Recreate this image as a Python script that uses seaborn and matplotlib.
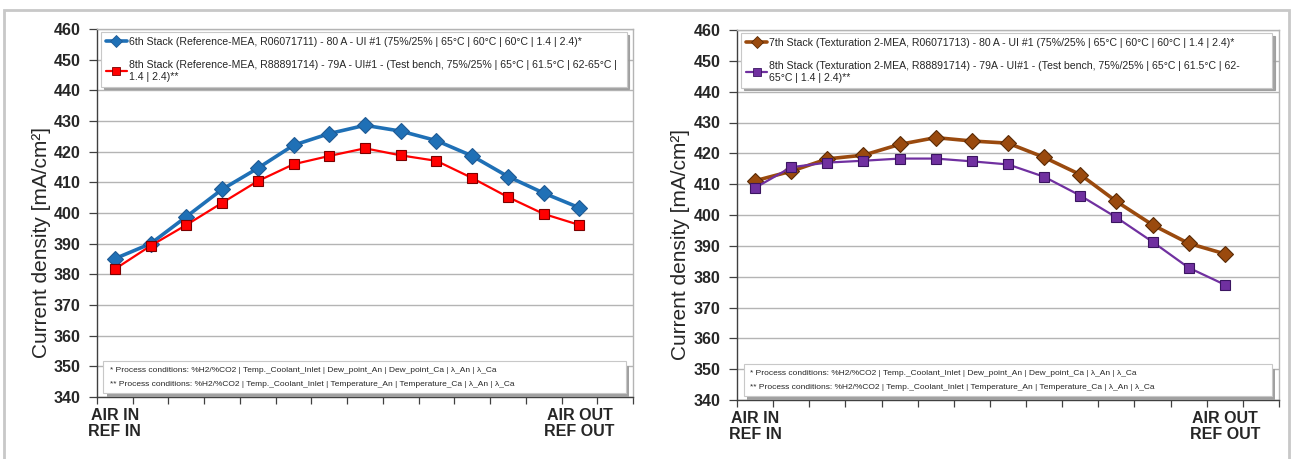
import numpy as np
import pandas as pd
import matplotlib
matplotlib.use("Agg")
import matplotlib.pyplot as plt
import seaborn as sns
from matplotlib.lines import Line2D
from matplotlib.patches import Rectangle

# ---------------- data ----------------
positions = list(range(15))          # 15 category slots along the stack
cell_idx = list(range(14))           # 14 measured positions
x_labels = {0: "AIR IN\nREF IN", 13: "AIR OUT\nREF OUT"}

left_s1 = [385.1, 390.0, 398.8, 407.7, 414.6, 422.1, 425.9, 428.6, 426.7, 423.6, 418.6, 411.9, 406.5, 401.7]
left_s2 = [381.7, 389.3, 396.1, 403.3, 410.4, 415.9, 418.6, 421.1, 418.8, 417.0, 411.4, 405.2, 399.7, 396.1]
right_s1 = [411.1, 414.2, 418.2, 419.4, 422.9, 425.1, 424.0, 423.3, 418.7, 413.1, 404.4, 396.8, 390.8, 387.4]
right_s2 = [408.8, 415.5, 417.0, 417.6, 418.3, 418.3, 417.4, 416.4, 412.4, 406.3, 399.2, 391.3, 382.9, 377.4]

left_labels = [
    "6th Stack (Reference-MEA, R06071711) - 80 A - UI #1 (75%/25% | 65°C | 60°C | 60°C | 1.4 | 2.4)*",
    "8th Stack (Reference-MEA, R88891714) - 79A - UI#1 - (Test bench, 75%/25% | 65°C | 61.5°C | 62-65°C |\n1.4 | 2.4)**",
]
right_labels = [
    "7th Stack (Texturation 2-MEA, R06071713) - 80 A - UI #1 (75%/25% | 65°C | 60°C | 60°C | 1.4 | 2.4)*",
    "8th Stack (Texturation 2-MEA, R88891714) - 79A - UI#1 - (Test bench, 75%/25% | 65°C | 61.5°C | 62-\n65°C | 1.4 | 2.4)**",
]
note_lines = [
    "* Process conditions: %H2/%CO2 | Temp._Coolant_Inlet | Dew_point_An | Dew_point_Ca | λ_An | λ_Ca",
    "** Process conditions: %H2/%CO2 | Temp._Coolant_Inlet | Temperature_An | Temperature_Ca | λ_An | λ_Ca",
]
y_label = "Current density [mA/cm²]"
y_ticks = list(range(340, 461, 10))

# ---------------- style ----------------
sns.set_theme(style="white")
plt.rcParams["font.family"] = ["Liberation Sans", "DejaVu Sans"]
small = ["Liberation Sans", "DejaVu Sans"]

fig = plt.figure(figsize=(12.91, 4.59), dpi=100)

# outer frame
fig.patches.append(Rectangle((4 / 1291, -0.05), (1289 - 4) / 1291, 1.05 - 10 / 459,
                             transform=fig.transFigure, fill=False,
                             edgecolor="#c8c8c8", linewidth=2.0, zorder=0))

ax_l = fig.add_axes([97 / 1291, 1 - 397 / 459, (633 - 97) / 1291, (397 - 29) / 459])
ax_r = fig.add_axes([737 / 1291, 1 - 400 / 459, (1279 - 737) / 1291, (400 - 30) / 459])

panels = [
    (ax_l, left_s1, left_s2, left_labels, ("#1F70B6", "#1F5A94", "D", 2.6, 8.5),
     ("#FF0000", "#7a0000", "s", 1.6, 7.0)),
    (ax_r, right_s1, right_s2, right_labels, ("#9A4A0E", "#5a2a05", "D", 2.6, 8.5),
     ("#7030A0", "#3a1560", "s", 1.6, 7.0)),
]

for ax, s1, s2, labels, st1, st2 in panels:
    df = pd.DataFrame({
        "pos": cell_idx * 2,
        "val": s1 + s2,
        "series": [labels[0]] * len(s1) + [labels[1]] * len(s2),
    })
    for lab, (col, ecol, mk, lw, ms) in zip(labels, (st1, st2)):
        sub = df[df["series"] == lab]
        sns.lineplot(data=sub, x="pos", y="val", ax=ax, color=col, linewidth=lw,
                     marker=mk, markersize=ms, markeredgecolor=ecol,
                     markeredgewidth=0.8, legend=False, zorder=3)

    ax.set_xlim(-0.5, 14.5)
    ax.set_ylim(340, 460)
    ax.set_yticks(y_ticks)
    ax.set_yticklabels([str(v) for v in y_ticks], fontsize=11.5, fontweight="bold")
    ax.grid(axis="y", color="#b4b4b4", linewidth=1.0)
    ax.grid(axis="x", visible=False)
    ax.set_axisbelow(True)

    # category boundaries as ticks, labels at category centres
    ax.set_xticks(np.arange(-0.5, 15, 1.0))
    ax.set_xticklabels([])
    ax.set_xticks(list(x_labels.keys()), minor=True)
    ax.set_xticklabels(list(x_labels.values()), minor=True, fontsize=11.5,
                       fontweight="bold", linespacing=1.1)
    ax.tick_params(axis="x", which="major", direction="out", length=5, width=0.9,
                   color="#404040", bottom=True)
    ax.tick_params(axis="x", which="minor", length=0, pad=8)
    ax.tick_params(axis="y", direction="out", length=6, width=0.9, color="#404040",
                   left=True, pad=6)
    ax.set_xlabel("")
    ax.set_ylabel(y_label, fontsize=15)
    ax.yaxis.set_label_coords(-0.086, 0.42)

    for side in ("left", "bottom"):
        ax.spines[side].set_color("#404040")
        ax.spines[side].set_linewidth(1.0)
    for side in ("top", "right"):
        ax.spines[side].set_color("#b4b4b4")
        ax.spines[side].set_linewidth(1.0)

    handles = [
        Line2D([0], [0], color=st1[0], lw=st1[3], marker=st1[2], markersize=6,
               markeredgecolor=st1[1], markeredgewidth=0.6),
        Line2D([0], [0], color=st2[0], lw=st2[3], marker=st2[2], markersize=6,
               markeredgecolor=st2[1], markeredgewidth=0.6),
    ]
    leg = ax.legend(handles, labels, loc="upper left",
                    bbox_to_anchor=(0.008, 0.992, 0.98, 0.0), mode="expand",
                    prop={"family": small, "size": 7.55}, handlelength=2.0,
                    handletextpad=0.2, labelspacing=1.3, borderpad=0.45,
                    frameon=True, fancybox=False, shadow={"color": "#9a9a9a", "alpha": 0.9},
                    borderaxespad=0.0)
    leg.get_frame().set_edgecolor("#c8c8c8")
    leg.get_frame().set_linewidth(0.8)

    # bottom notes box
    x0, y0, w, h = 0.012, 0.012, 0.975, 0.085
    ax.add_patch(Rectangle((x0 + 0.006, y0 - 0.012), w, h, transform=ax.transAxes,
                           facecolor="#a0a0a0", edgecolor="none", zorder=4))
    ax.add_patch(Rectangle((x0, y0), w, h, transform=ax.transAxes,
                           facecolor="white", edgecolor="#c8c8c8", linewidth=0.8, zorder=5))
    ax.text(x0 + 0.012, y0 + h * 0.70, note_lines[0], transform=ax.transAxes,
            fontsize=6.0, family=small, va="center", ha="left", zorder=6)
    ax.text(x0 + 0.012, y0 + h * 0.27, note_lines[1], transform=ax.transAxes,
            fontsize=6.0, family=small, va="center", ha="left", zorder=6)

fig.savefig("out.png", dpi=100)
